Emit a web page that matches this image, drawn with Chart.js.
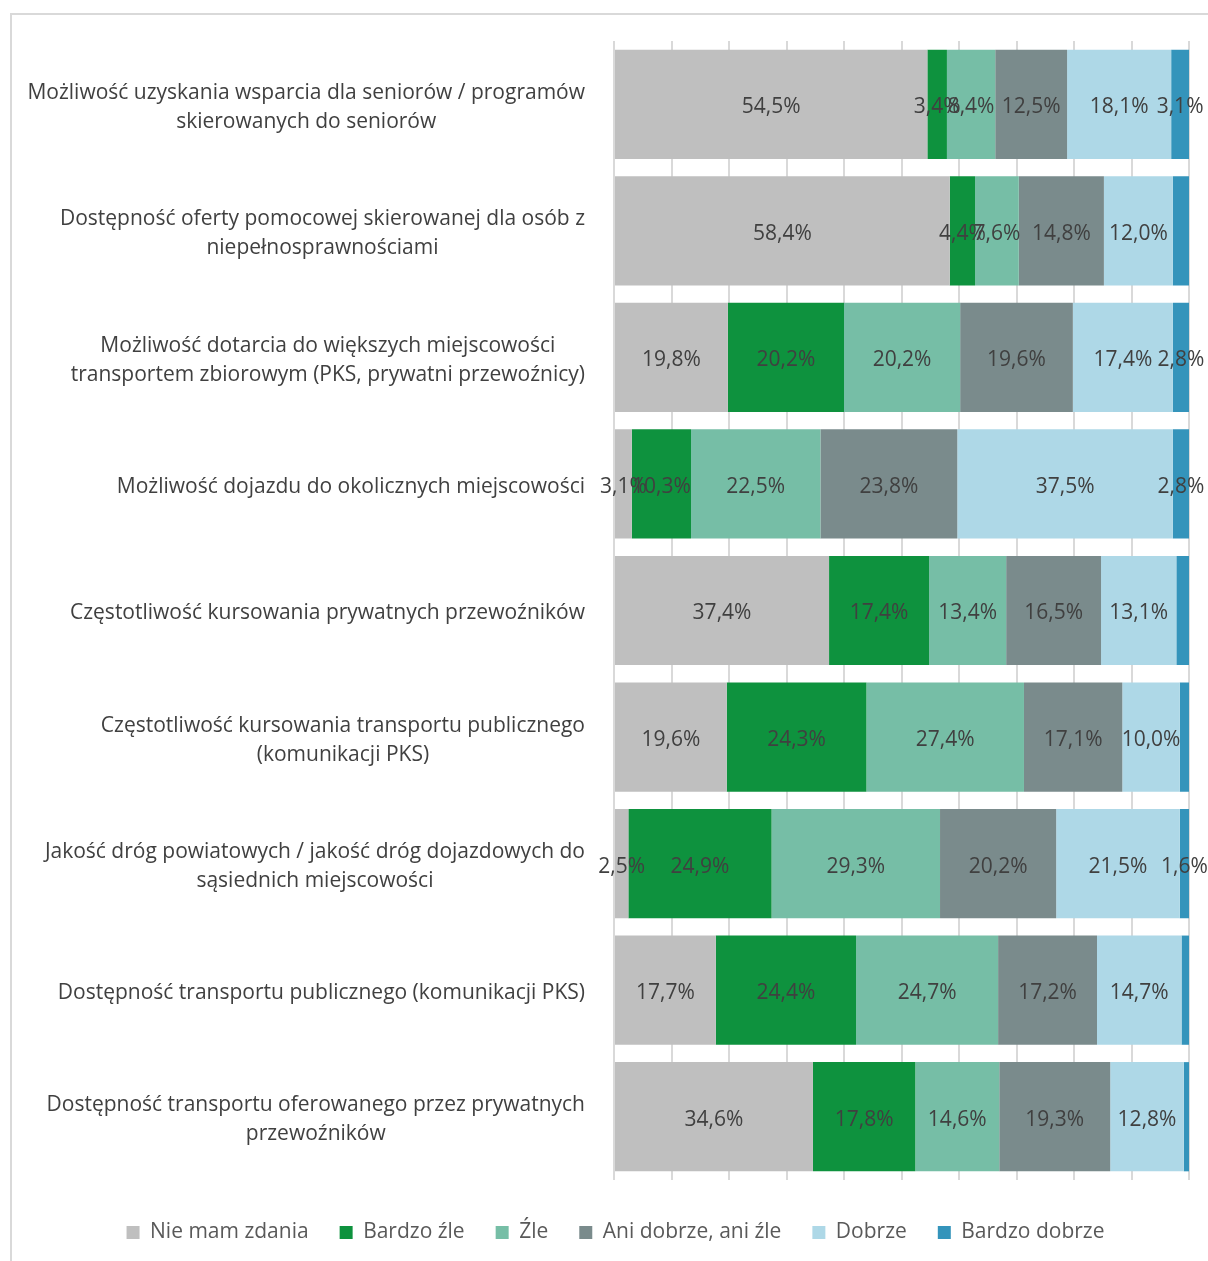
<!DOCTYPE html>
<html lang="pl">
<head>
<meta charset="utf-8">
<script src="https://cdn.jsdelivr.net/npm/chart.js@4.4.1/dist/chart.umd.min.js"></script>
<style>
    html, body { margin: 0; padding: 0; background: #fff; overflow: hidden; }
    #ramka {
        position: absolute; left: 10px; top: 13px;
        width: 1220px; height: 1280px;
        border-top: 2px solid #d9d9d9; border-left: 2px solid #d9d9d9;
    }
    #wykres { display: block; }
</style>
</head>
<body>
<div id="ramka"><canvas id="wykres" width="1198" height="1238"></canvas></div>
<script>
const kategorie = [
    ["Możliwość uzyskania wsparcia dla seniorów / programów", "skierowanych do seniorów"],
    ["Dostępność oferty pomocowej skierowanej dla osób z", "niepełnosprawnościami"],
    ["Możliwość dotarcia do większych miejscowości", "transportem zbiorowym (PKS, prywatni przewoźnicy)"],
    ["Możliwość dojazdu do okolicznych miejscowości"],
    ["Częstotliwość kursowania prywatnych przewoźników"],
    ["Częstotliwość kursowania transportu publicznego", "(komunikacji PKS)"],
    ["Jakość dróg powiatowych / jakość dróg dojazdowych do", "sąsiednich miejscowości"],
    ["Dostępność transportu publicznego (komunikacji PKS)"],
    ["Dostępność transportu oferowanego przez prywatnych", "przewoźników"]
];

const nieMamZdania = [54.5, 58.4, 19.8, 3.1, 37.4, 19.6, 2.5, 17.7, 34.6];
const bardzoZle = [3.4, 4.4, 20.2, 10.3, 17.4, 24.3, 24.9, 24.4, 17.8];
const zle = [8.4, 7.6, 20.2, 22.5, 13.4, 27.4, 29.3, 24.7, 14.6];
const aniDobrzeAniZle = [12.5, 14.8, 19.6, 23.8, 16.5, 17.1, 20.2, 17.2, 19.3];
const dobrze = [18.1, 12.0, 17.4, 37.5, 13.1, 10.0, 21.5, 14.7, 12.8];
const bardzoDobrze = [3.1, 2.8, 2.8, 2.8, 2.2, 1.6, 1.6, 1.3, 0.9];

// etykiety "Bardzo dobrze" widoczne tylko w czesci wierszy (jak w oryginale)
const etykietaBardzoDobrze = [true, false, true, true, false, false, true, false, false];

const czcionka = '"Open Sans", "DejaVu Sans", sans-serif';

document.addEventListener("DOMContentLoaded", function () {
    const ctx = document.getElementById('wykres').getContext('2d');

    const etykietyKategorii = {
        id: 'etykietyKategorii',
        afterDraw(chart) {
            const c = chart.ctx;
            const skala = chart.scales.y;
            const prawa = chart.chartArea.left - 29;
            c.save();
            c.font = '21px ' + czcionka;
            c.fillStyle = '#404040';
            c.textAlign = 'center';
            c.textBaseline = 'middle';
            kategorie.forEach(function (linie, i) {
                const y = skala.getPixelForTick(i) + 3;
                const szer = Math.max(...linie.map(l => c.measureText(l).width));
                const srodek = prawa - szer / 2;
                const start = y - (linie.length - 1) * 29 / 2;
                linie.forEach(function (l, j) {
                    c.fillText(l, srodek, start + j * 29);
                });
            });
            c.restore();
        }
    };

    const etykietyWartosci = {
        id: 'etykietyWartosci',
        afterDatasetsDraw(chart) {
            const c = chart.ctx;
            c.save();
            c.font = '21px ' + czcionka;
            c.fillStyle = '#404040';
            c.textAlign = 'center';
            c.textBaseline = 'middle';
            chart.data.datasets.forEach(function (ds, d) {
                const meta = chart.getDatasetMeta(d);
                meta.data.forEach(function (bar, i) {
                    if (d === 5 && !etykietaBardzoDobrze[i]) return;
                    const p = bar.getProps(['x', 'y', 'base'], true);
                    const tekst = ds.data[i].toFixed(1).replace('.', ',') + '%';
                    c.fillText(tekst, (p.x + p.base) / 2, p.y + 3);
                });
            });
            c.restore();
        }
    };

    const zestaw = (nazwa, dane, kolor) => ({
        label: nazwa,
        data: dane,
        backgroundColor: kolor,
        borderWidth: 0,
        barPercentage: 0.863,
        categoryPercentage: 1
    });

    new Chart(ctx, {
        type: 'bar',
        data: {
            labels: kategorie.map(k => k.join(' ')),
            datasets: [
                zestaw('Nie mam zdania', nieMamZdania, '#bfbfbf'),
                zestaw('Bardzo źle', bardzoZle, '#0e923e'),
                zestaw('Źle', zle, '#76bea6'),
                zestaw('Ani dobrze, ani źle', aniDobrzeAniZle, '#7a8b8c'),
                zestaw('Dobrze', dobrze, '#aed8e7'),
                zestaw('Bardzo dobrze', bardzoDobrze, '#3494bb')
            ]
        },
        options: {
            indexAxis: 'y',
            responsive: false,
            animation: false,
            layout: {
                padding: { top: 26, right: 21, left: 30, bottom: 0 }
            },
            scales: {
                x: {
                    stacked: true,
                    min: 0,
                    max: 100,
                    ticks: { display: false, stepSize: 10 },
                    grid: { color: '#d9d9d9', lineWidth: 2, drawTicks: false },
                    border: { display: false },
                    afterFit: function (scale) { scale.height = 11; }
                },
                y: {
                    stacked: true,
                    ticks: { display: false },
                    grid: { display: false },
                    border: { display: false },
                    afterFit: function (scale) { scale.width = 572; }
                }
            },
            plugins: {
                legend: {
                    position: 'bottom',
                    labels: {
                        boxWidth: 13,
                        boxHeight: 13,
                        padding: 31,
                        color: '#595959',
                        font: { family: czcionka, size: 21 }
                    }
                },
                tooltip: { enabled: false }
            }
        },
        plugins: [etykietyKategorii, etykietyWartosci]
    });
});
</script>
</body>
</html>
